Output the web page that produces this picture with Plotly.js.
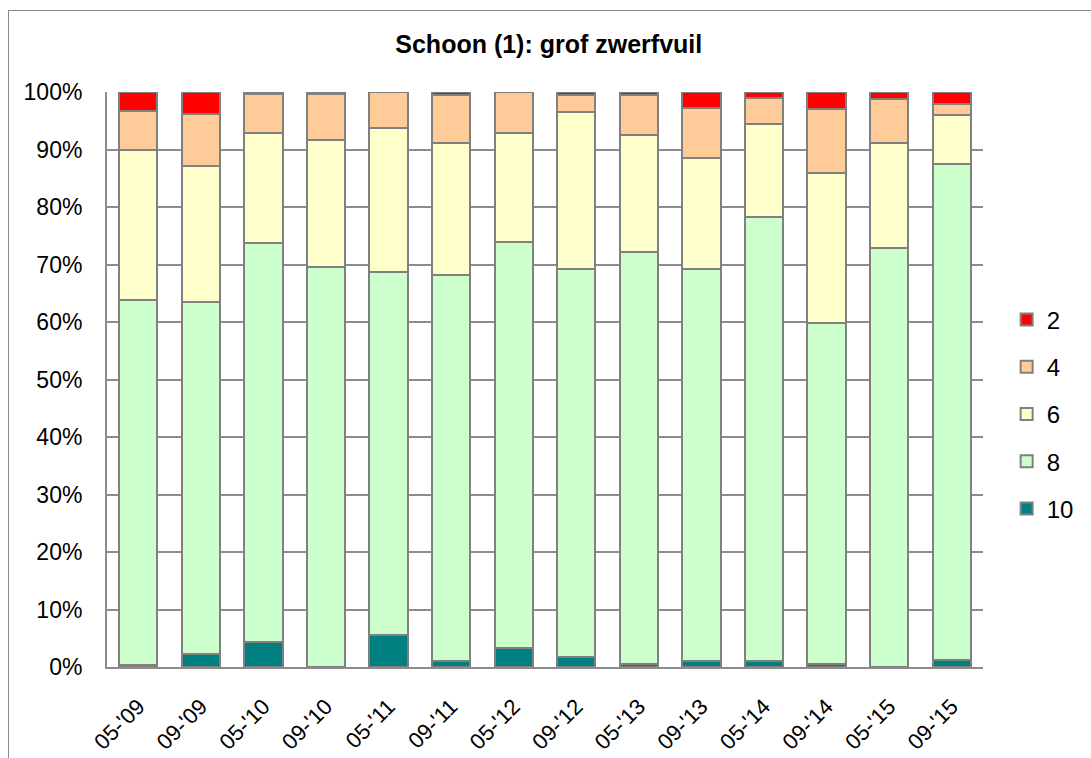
<!DOCTYPE html>
<html>
<head>
<meta charset="utf-8">
<script src="https://cdn.plot.ly/plotly-3.0.1.min.js"></script>
<style>
  html, body { margin: 0; padding: 0; background: #fff; }
  #wrap { position: relative; width: 1091px; height: 758px; overflow: hidden; }
  #frame { position: absolute; left: 8px; top: 10px; width: 2000px; height: 2000px;
           border-left: 1.5px solid #8c8c8c; border-top: 1.5px solid #8c8c8c; }
  #chart { position: absolute; left: 0; top: 0; width: 1091px; height: 758px; }
</style>
</head>
<body>
<div id="wrap">
  <div id="frame"></div>
  <div id="chart"></div>
</div>
<script>
const categories = ["05-'09","09-'09","05-'10","09-'10","05-'11","09-'11","05-'12","09-'12","05-'13","09-'13","05-'14","09-'14","05-'15","09-'15"];
const score10 = [0.4, 2.2, 4.4, 0.0, 5.6, 1.1, 3.25, 1.8, 0.5, 1.1, 1.1, 0.5, 0.0, 1.3];
const score8  = [63.4, 61.3, 69.3, 69.6, 63.15, 67.1, 70.65, 67.5, 71.6, 68.1, 77.2, 59.3, 72.9, 86.2];
const score6  = [26.1, 23.7, 19.1, 22.1, 25.05, 22.9, 18.9, 27.2, 20.4, 19.3, 16.2, 26.1, 18.2, 8.5];
const score4  = [6.8, 8.9, 6.85, 8.0, 6.2, 8.3, 7.2, 2.9, 7.0, 8.7, 4.4, 11.2, 7.7, 2.0];
const score2  = [3.3, 3.9, 0.35, 0.3, 0.0, 0.6, 0.0, 0.6, 0.5, 2.8, 1.1, 2.9, 1.2, 2.0];
const seriesNames = ["10", "8", "6", "4", "2"];
const seriesColors = ["#008080", "#CCFFCC", "#FFFFCC", "#FFCC99", "#FF0000"];
const titleText = "Schoon (1): grof zwerfvuil";
const cornerText = "2009 t/m 2015";

const seriesValues = [score10, score8, score6, score4, score2];
const traces = seriesValues.map((vals, i) => ({
  type: 'bar',
  name: seriesNames[i],
  x: categories,
  y: vals,
  legendgroup: 'g' + i,
  legendrank: 100 - i,
  marker: { color: seriesColors[i], line: { color: '#808080', width: 2 } },
  hoverinfo: 'x+y+name'
}));

const layout = {
  width: 1091, height: 758,
  paper_bgcolor: 'rgba(0,0,0,0)',
  plot_bgcolor: '#ffffff',
  margin: { l: 107, r: 104, t: 92, b: 91 },
  barmode: 'stack',
  bargap: 0.39,
  font: { family: 'Liberation Sans, Arial, sans-serif', color: '#000' },
  title: { text: '<b>' + titleText + '</b>', x: 0.503, xanchor: 'center', y: 0.942, yanchor: 'middle',
           font: { size: 25, family: 'Liberation Sans, Arial, sans-serif', color: '#000' } },
  xaxis: {
    type: 'category',
    tickangle: -45,
    tickfont: { size: 22 },
    showgrid: false,
    showline: true, linecolor: '#8c8c8c', linewidth: 2,
    ticks: '',
    ticklabelstandoff: 16,
    fixedrange: true
  },
  yaxis: {
    range: [0, 100],
    dtick: 10,
    ticksuffix: '%',
    tickfont: { size: 23 },
    showgrid: true, gridcolor: '#8c8c8c', gridwidth: 2,
    showline: true, linecolor: '#8c8c8c', linewidth: 2,
    zeroline: false,
    ticks: '',
    ticklabelstandoff: 18,
    fixedrange: true
  },
  legend: {
    x: 1.027, xanchor: 'left', y: 0.44, yanchor: 'middle',
    traceorder: 'grouped',
    tracegroupgap: 13,
    font: { size: 24 },
    itemwidth: 30,
    bgcolor: 'rgba(0,0,0,0)'
  },
  annotations: [{
    text: cornerText, xref: 'paper', yref: 'paper',
    x: -0.114, xanchor: 'left', y: 1.150, yanchor: 'bottom',
    showarrow: false, font: { size: 23, color: '#000' }
  }]
};

Plotly.newPlot('chart', traces, layout, { displayModeBar: false, staticPlot: true });
</script>
</body>
</html>
